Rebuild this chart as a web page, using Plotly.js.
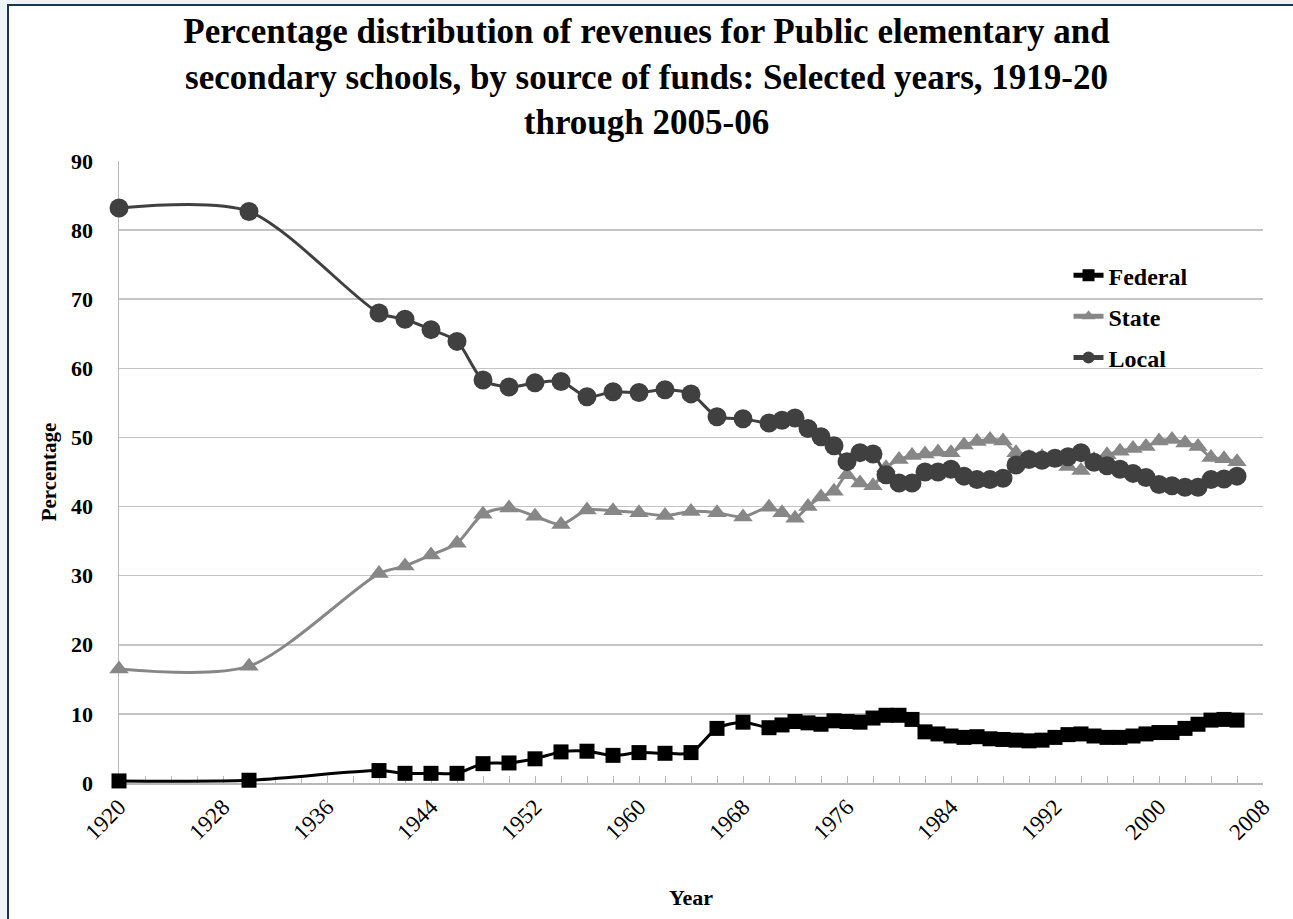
<!DOCTYPE html>
<html>
<head>
<meta charset="utf-8">
<script src="https://cdn.plot.ly/plotly-3.0.1.min.js"></script>
<style>
  html, body { margin: 0; padding: 0; background: #ffffff; }
  #wrap { position: relative; width: 1293px; height: 919px; overflow: hidden; }
  #chart { position: absolute; left: 0; top: 0; width: 1293px; height: 919px; }
  .strip-left { position: absolute; left: 0; top: 0; width: 7px; height: 919px; background: #eef3f9; }
  .strip-top { position: absolute; left: 0; top: 0; width: 1293px; height: 4px; background: #eef3f9; }
  .line-left { position: absolute; left: 7px; top: 4px; width: 2px; height: 915px; background: #1d3350; }
  .line-top { position: absolute; left: 7px; top: 4px; width: 1286px; height: 2px; background: #1d3350; }
</style>
</head>
<body>
<div id="wrap">
  <div id="chart"></div>
  <div class="strip-left"></div>
  <div class="strip-top"></div>
  <div class="line-left"></div>
  <div class="line-top"></div>
</div>
<script>
const years = [1920, 1930, 1940, 1942, 1944, 1946, 1948, 1950, 1952, 1954, 1956, 1958, 1960, 1962, 1964, 1966, 1968, 1970,
  1971, 1972, 1973, 1974, 1975, 1976, 1977, 1978, 1979, 1980, 1981, 1982, 1983, 1984, 1985, 1986, 1987, 1988, 1989, 1990,
  1991, 1992, 1993, 1994, 1995, 1996, 1997, 1998, 1999, 2000, 2001, 2002, 2003, 2004, 2005, 2006];

const federal = [0.3, 0.4, 1.8, 1.4, 1.4, 1.4, 2.8, 2.9, 3.5, 4.5, 4.6, 4.0, 4.4, 4.3, 4.4, 7.9, 8.8, 8.0,
  8.4, 8.9, 8.7, 8.5, 9.0, 8.9, 8.8, 9.4, 9.8, 9.8, 9.2, 7.4, 7.1, 6.8, 6.6, 6.7, 6.4, 6.3, 6.2, 6.1,
  6.2, 6.6, 7.0, 7.1, 6.8, 6.6, 6.6, 6.8, 7.1, 7.3, 7.3, 7.9, 8.5, 9.1, 9.2, 9.1];

const state = [16.5, 16.9, 30.3, 31.4, 33.0, 34.7, 38.9, 39.8, 38.6, 37.4, 39.5, 39.4, 39.1, 38.7, 39.3, 39.1, 38.5, 39.9,
  39.1, 38.3, 40.0, 41.4, 42.2, 44.6, 43.4, 43.0, 45.6, 46.8, 47.4, 47.6, 47.9, 47.8, 48.9, 49.4, 49.7, 49.5, 47.8, 47.1,
  47.2, 46.4, 45.8, 45.2, 46.8, 47.5, 48.0, 48.4, 48.7, 49.5, 49.7, 49.2, 48.7, 47.1, 46.9, 46.5];

const local = [83.2, 82.7, 68.0, 67.1, 65.6, 63.9, 58.3, 57.3, 57.9, 58.1, 55.9, 56.6, 56.5, 56.9, 56.3, 53.0, 52.7, 52.1,
  52.5, 52.8, 51.3, 50.1, 48.8, 46.5, 47.8, 47.6, 44.6, 43.4, 43.4, 45.0, 45.0, 45.4, 44.4, 43.9, 43.9, 44.1, 46.0, 46.8,
  46.7, 47.0, 47.2, 47.8, 46.4, 45.9, 45.4, 44.8, 44.2, 43.2, 43.0, 42.8, 42.8, 43.9, 44.0, 44.4];

const seriesNames = ["Federal", "State", "Local"];
const titleText = "Percentage distribution of revenues for Public elementary and<br>secondary schools, by source of funds: Selected years, 1919-20<br>through 2005-06";

const serif = "Liberation Serif, Times New Roman, serif";

const traces = [
  {
    x: years, y: federal, name: seriesNames[0], type: "scatter", mode: "lines+markers",
    legendgroup: "a", cliponaxis: false,
    line: { color: "#000000", width: 3, shape: "spline", smoothing: 0.8 },
    marker: { symbol: "square", size: 15, color: "#000000" }
  },
  {
    x: years, y: state, name: seriesNames[1], type: "scatter", mode: "lines+markers",
    legendgroup: "b", cliponaxis: false,
    line: { color: "#878787", width: 3, shape: "spline", smoothing: 0.8 },
    marker: { symbol: "triangle-up", size: 17, color: "#878787" }
  },
  {
    x: years, y: local, name: seriesNames[2], type: "scatter", mode: "lines+markers",
    legendgroup: "c", cliponaxis: false,
    line: { color: "#404040", width: 3, shape: "spline", smoothing: 0.8 },
    marker: { symbol: "circle", size: 19, color: "#404040" }
  }
];

const layout = {
  width: 1293, height: 919,
  paper_bgcolor: "#ffffff", plot_bgcolor: "#ffffff",
  margin: { l: 119, r: 30, t: 161, b: 136 },
  font: { family: serif, color: "#000000" },
  title: {
    text: titleText,
    font: { family: serif, size: 35, weight: "bold", color: "#000000" },
    x: 0.5, xref: "container", xanchor: "center",
    y: 0.953, yref: "container", yanchor: "middle"
  },
  showlegend: true,
  legend: {
    x: 0.83, y: 0.852, xanchor: "left", yanchor: "top",
    bgcolor: "rgba(0,0,0,0)", borderwidth: 0,
    font: { family: serif, size: 24, weight: "bold", color: "#000000" },
    traceorder: "grouped", tracegroupgap: 7, itemsizing: "constant"
  },
  xaxis: {
    range: [1920, 2008], tick0: 1920, dtick: 8,
    showgrid: false, zeroline: false, layer: "below traces",
    showline: true, linecolor: "#b8b8b8", linewidth: 1.5,
    ticks: "inside", ticklen: 7, tickcolor: "#b8b8b8",
    minor: { dtick: 2, ticks: "inside", ticklen: 7, tickcolor: "#b8b8b8", showgrid: false },
    tickangle: -45,
    tickfont: { family: serif, size: 23, color: "#000000" },
    title: { text: "Year", font: { family: serif, size: 22, weight: "bold", color: "#000000" }, standoff: 46 }
  },
  yaxis: {
    range: [0, 90], dtick: 10,
    showgrid: true, gridcolor: "#c4c4c4", gridwidth: 1.5,
    zeroline: false, layer: "below traces",
    showline: true, linecolor: "#b8b8b8", linewidth: 1.5,
    ticks: "", ticklabelstandoff: 20,
    tickfont: { family: serif, size: 22, weight: "bold", color: "#000000" },
    title: { text: "Percentage", font: { family: serif, size: 21, weight: "bold", color: "#000000" }, standoff: 8 }
  }
};

Plotly.newPlot("chart", traces, layout, { displayModeBar: false, staticPlot: true });
</script>
</body>
</html>
